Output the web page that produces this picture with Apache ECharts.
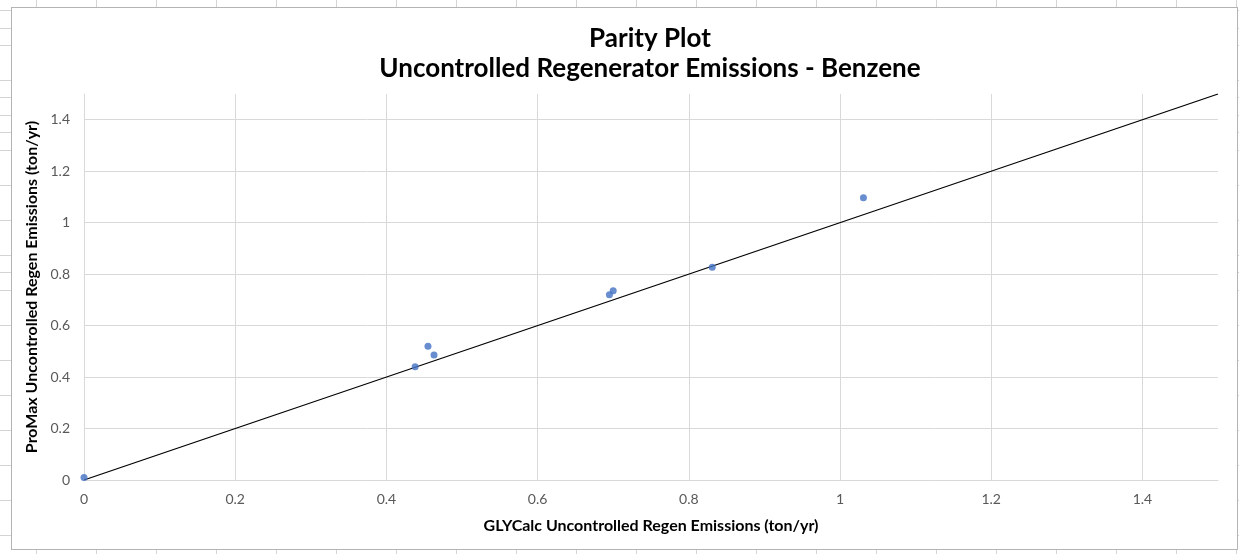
<!DOCTYPE html>
<html>
<head>
<meta charset="utf-8">
<script src="https://cdn.jsdelivr.net/npm/echarts@6/dist/echarts.min.js"></script>
<style>
  html, body {
    margin: 0;
    padding: 0;
    width: 1239px;
    height: 554px;
    overflow: hidden;
    background-color: #fff;
    background-image:
      repeating-linear-gradient(to right, transparent 0, transparent 36px, #d4d4d4 36px, #d4d4d4 37px, transparent 37px, transparent 60px),
      repeating-linear-gradient(to bottom, transparent 0, transparent 10px, #d4d4d4 10px, #d4d4d4 11px, transparent 11px, transparent 17.5px);
  }
  #chart {
    position: absolute;
    left: 11px;
    top: 7px;
    width: 1225px;
    height: 541px;
    border: 1px solid #b4b4b4;
    background: #fff;
  }
</style>
</head>
<body>
<div id="chart"></div>
<script>
// GLYCalc (x) vs ProMax (y), ton/yr
var glycalc = [0, 0.438, 0.455, 0.463, 0.695, 0.700, 0.831, 1.031]
var promax = [0.01, 0.44, 0.52, 0.486, 0.72, 0.735, 0.827, 1.097]
var parityLine = [[0, 0], [1.5, 1.5]]

var points = glycalc.map(function (x, i) { return [x, promax[i]] })

var fontName = 'Lato'
var chart = echarts.init(document.getElementById('chart'))

var option = {
  animation: false,
  textStyle: { fontFamily: fontName },
  title: [{
    text: 'Parity Plot',
    left: 633,
    top: 13,
    textAlign: 'center',
    textStyle: { fontSize: 26, fontWeight: 'bold', color: '#000', fontFamily: fontName }
  }, {
    text: 'Uncontrolled Regenerator Emissions - Benzene',
    left: 633,
    top: 43,
    textAlign: 'center',
    textStyle: { fontSize: 26, fontWeight: 'bold', color: '#000', fontFamily: fontName }
  }],
  grid: {
    left: 72,
    right: 19,
    top: 86,
    bottom: 69,
    containLabel: false
  },
  xAxis: {
    type: 'value',
    min: 0,
    max: 1.5,
    interval: 0.2,
    name: 'GLYCalc Uncontrolled Regen Emissions (ton/yr)',
    nameLocation: 'middle',
    nameGap: 38,
    nameTextStyle: { fontSize: 16, fontWeight: 'bold', color: '#000', fontFamily: fontName },
    axisLine: { show: true, lineStyle: { color: '#d9d9d9', width: 1 } },
    axisTick: { show: false },
    axisLabel: { fontSize: 14, color: '#595959', margin: 12, showMaxLabel: false },
    splitLine: { show: true, showMaxLine: false, lineStyle: { color: '#d9d9d9', width: 1 } }
  },
  yAxis: {
    type: 'value',
    min: 0,
    max: 1.5,
    interval: 0.2,
    name: 'ProMax Uncontrolled Regen Emissions (ton/yr)',
    nameLocation: 'middle',
    nameGap: 41,
    nameTextStyle: { fontSize: 16, fontWeight: 'bold', color: '#000', fontFamily: fontName },
    axisLine: { show: true, lineStyle: { color: '#d9d9d9', width: 1 } },
    axisTick: { show: false },
    axisLabel: { fontSize: 14, color: '#595959', margin: 14, showMaxLabel: false },
    splitLine: { show: true, showMaxLine: false, lineStyle: { color: '#d9d9d9', width: 1 } }
  },
  series: [{
    name: 'Parity',
    type: 'line',
    data: parityLine,
    symbol: 'none',
    lineStyle: { color: '#000', width: 1.3 },
    z: 2
  }, {
    name: 'Benzene',
    type: 'scatter',
    data: points,
    symbolSize: 7,
    itemStyle: { color: '#4472c4' },
    z: 3
  }]
}

chart.setOption(option)
</script>
</body>
</html>
